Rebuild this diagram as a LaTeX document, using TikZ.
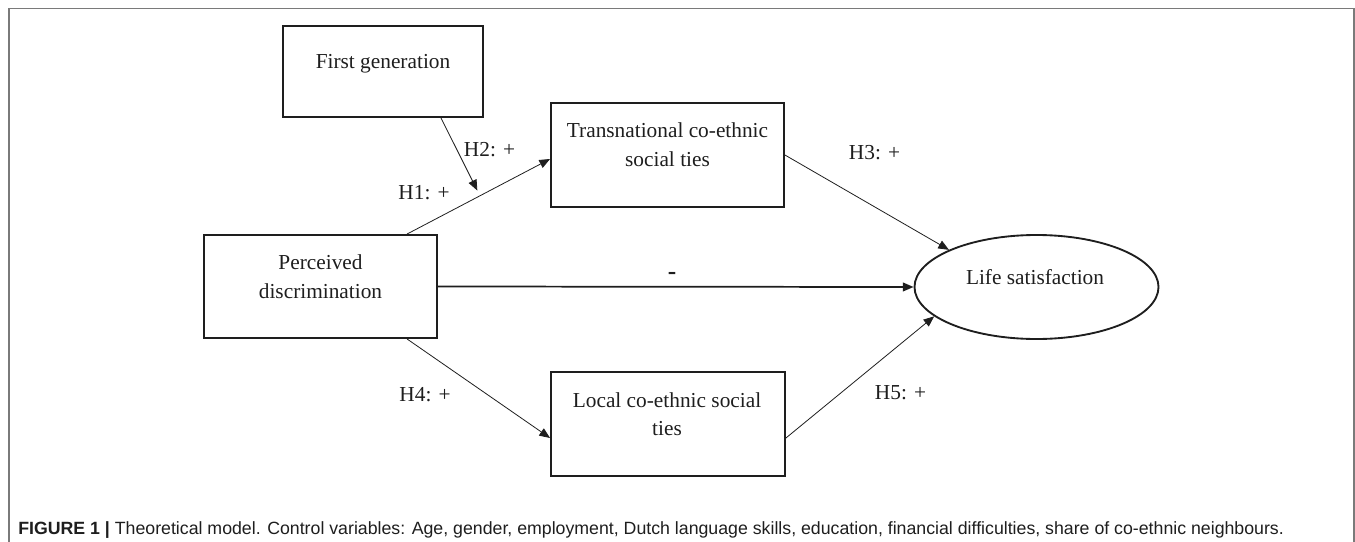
\documentclass[tikz,border=0pt]{standalone}
\usepackage{fontspec}
\setmainfont{Liberation Serif}
\newfontfamily\capfont{Liberation Sans}
\usetikzlibrary{arrows.meta,shapes.geometric,calc}
\definecolor{ink}{HTML}{1E1E1E}
\definecolor{framegray}{HTML}{7A7A7A}
\begin{document}
\begin{tikzpicture}[x=0.75pt,y=-0.75pt,
  box/.style={draw=ink, line width=1.4pt, rectangle, inner sep=0pt},
  oval/.style={draw=ink, line width=1.4pt, ellipse, inner sep=0pt},
  boxtext/.style={font=\fontsize{16}{21.4}\selectfont, text=ink, align=center, inner sep=0pt},
  lbl/.style={font=\fontsize{16}{18}\selectfont, text=ink, inner sep=0pt, anchor=base},
  arr/.style={draw=ink, line width=0.6pt, -{Triangle[length=8pt,width=6.5pt]}},
  arrthick/.style={arr, line width=1.3pt},
  captext/.style={font=\capfont\fontsize{13.3}{15}\selectfont, text=ink, inner sep=0pt, anchor=base west}
]
\useasboundingbox (0,0) rectangle (1355,542);
\draw[framegray, line width=1.4pt] (9,600) -- (9,8.5) -- (1354,8.5) -- (1354,600);

% boxes
\node[box, minimum width=150pt, minimum height=68.25pt] (first) at (383,71.5) {};
\node[box, minimum width=174.75pt, minimum height=78pt] (trans) at (667.5,155) {};
\node[box, minimum width=174.75pt, minimum height=77.25pt] (perc) at (320.5,286.5) {};
\node[box, minimum width=175.5pt, minimum height=78pt] (local) at (668,424) {};
\node[oval, minimum width=183pt, minimum height=78pt] (ell) at (1036.5,287) {};

% box texts
\node[lbl] (firsttxt) at (383,69) {First generation};
\node[boxtext] (transtxt) at (667.5,144.8) {Transnational co-ethnic\\social ties};
\node[boxtext] (perctxt) at (320.5,276.8) {Perceived\\discrimination};
\node[boxtext] (localtxt) at (667,414.2) {Local co-ethnic social\\ties};
\node[lbl] (elltxt) at (1035,284) {Life satisfaction};

% connectors
\draw[arr] ($(perc.north)+(86.5,0)$) -- coordinate[pos=0.51] (h1m) ($(trans.west)+(0,4)$);
\draw[arr, shorten >=4.4pt] ($(first.south)+(58,0)$) -- (h1m);
\draw[arrthick] (perc.east) -- (ell.west);
\draw[arr] (trans.east) -- (ell.157);
\draw[arr] ($(perc.south)+(86.5,0)$) -- ($(local.west)+(0,14)$);
\draw[arr] ($(local.east)+(0,14)$) -- (ell.196);

% labels
\node[lbl] (h1) at (424,199) {H1: +};
\node[lbl] (h2) at (489.5,156) {H2: +};
\node[lbl] (h3) at (874.5,159) {H3: +};
\node[lbl] (h4) at (425,401) {H4: +};
\node[lbl] (h5) at (900.5,399) {H5: +};
\node[lbl, font=\fontsize{19}{20}\selectfont\bfseries] (neg) at (672,279) {-};

% caption
\node[captext] (caption) at (18,534) {\textbf{FIGURE 1 |} Theoretical model. Control variables: Age, gender, employment, Dutch language skills, education, financial difficulties, share of co-ethnic neighbours.};
\end{tikzpicture}
\end{document}
